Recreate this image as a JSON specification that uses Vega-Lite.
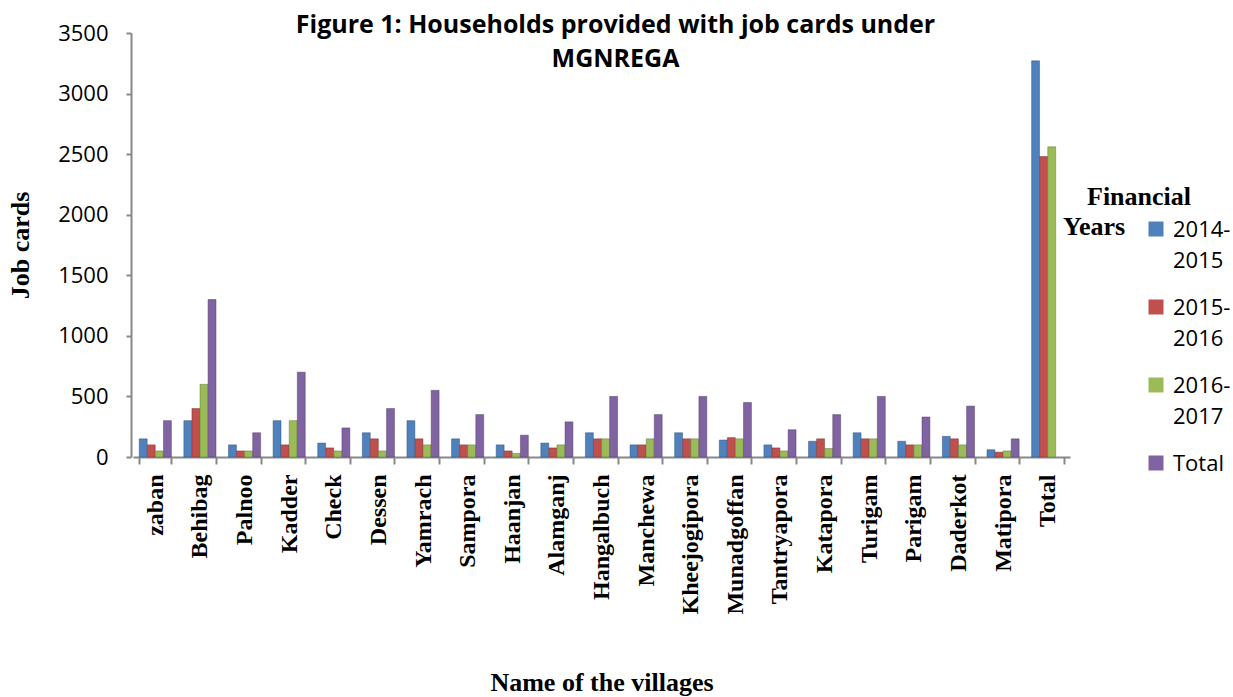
{
  "$schema": "https://vega.github.io/schema/vega-lite/v6.json",
  "autosize": {"type": "none"},
  "width": 937,
  "height": 424,
  "padding": {"left": 133, "top": 33, "right": 163, "bottom": 240},
  "background": "white",
  "title": {
    "text": ["Figure 1: Households provided with job cards under", "MGNREGA"],
    "font": "Open Sans",
    "fontSize": 25,
    "fontWeight": "bold",
    "color": "#000000",
    "anchor": "middle",
    "lineHeight": 34,
    "offset": -50,
    "dx": 14
  },
  "data": {
    "values": [
      {"village": "zaban", "year": "2014-2015", "value": 150},
      {"village": "zaban", "year": "2015-2016", "value": 100},
      {"village": "zaban", "year": "2016-2017", "value": 50},
      {"village": "zaban", "year": "Total", "value": 300},
      {"village": "Behibag", "year": "2014-2015", "value": 300},
      {"village": "Behibag", "year": "2015-2016", "value": 400},
      {"village": "Behibag", "year": "2016-2017", "value": 600},
      {"village": "Behibag", "year": "Total", "value": 1300},
      {"village": "Palnoo", "year": "2014-2015", "value": 100},
      {"village": "Palnoo", "year": "2015-2016", "value": 50},
      {"village": "Palnoo", "year": "2016-2017", "value": 50},
      {"village": "Palnoo", "year": "Total", "value": 200},
      {"village": "Kadder", "year": "2014-2015", "value": 300},
      {"village": "Kadder", "year": "2015-2016", "value": 100},
      {"village": "Kadder", "year": "2016-2017", "value": 300},
      {"village": "Kadder", "year": "Total", "value": 700},
      {"village": "Check", "year": "2014-2015", "value": 115},
      {"village": "Check", "year": "2015-2016", "value": 75},
      {"village": "Check", "year": "2016-2017", "value": 50},
      {"village": "Check", "year": "Total", "value": 240},
      {"village": "Dessen", "year": "2014-2015", "value": 200},
      {"village": "Dessen", "year": "2015-2016", "value": 150},
      {"village": "Dessen", "year": "2016-2017", "value": 50},
      {"village": "Dessen", "year": "Total", "value": 400},
      {"village": "Yamrach", "year": "2014-2015", "value": 300},
      {"village": "Yamrach", "year": "2015-2016", "value": 150},
      {"village": "Yamrach", "year": "2016-2017", "value": 100},
      {"village": "Yamrach", "year": "Total", "value": 550},
      {"village": "Sampora", "year": "2014-2015", "value": 150},
      {"village": "Sampora", "year": "2015-2016", "value": 100},
      {"village": "Sampora", "year": "2016-2017", "value": 100},
      {"village": "Sampora", "year": "Total", "value": 350},
      {"village": "Haanjan", "year": "2014-2015", "value": 100},
      {"village": "Haanjan", "year": "2015-2016", "value": 50},
      {"village": "Haanjan", "year": "2016-2017", "value": 30},
      {"village": "Haanjan", "year": "Total", "value": 180},
      {"village": "Alamganj", "year": "2014-2015", "value": 115},
      {"village": "Alamganj", "year": "2015-2016", "value": 75},
      {"village": "Alamganj", "year": "2016-2017", "value": 100},
      {"village": "Alamganj", "year": "Total", "value": 290},
      {"village": "Hangalbuch", "year": "2014-2015", "value": 200},
      {"village": "Hangalbuch", "year": "2015-2016", "value": 150},
      {"village": "Hangalbuch", "year": "2016-2017", "value": 150},
      {"village": "Hangalbuch", "year": "Total", "value": 500},
      {"village": "Manchewa", "year": "2014-2015", "value": 100},
      {"village": "Manchewa", "year": "2015-2016", "value": 100},
      {"village": "Manchewa", "year": "2016-2017", "value": 150},
      {"village": "Manchewa", "year": "Total", "value": 350},
      {"village": "Kheejogipora", "year": "2014-2015", "value": 200},
      {"village": "Kheejogipora", "year": "2015-2016", "value": 150},
      {"village": "Kheejogipora", "year": "2016-2017", "value": 150},
      {"village": "Kheejogipora", "year": "Total", "value": 500},
      {"village": "Munadgoffan", "year": "2014-2015", "value": 140},
      {"village": "Munadgoffan", "year": "2015-2016", "value": 160},
      {"village": "Munadgoffan", "year": "2016-2017", "value": 150},
      {"village": "Munadgoffan", "year": "Total", "value": 450},
      {"village": "Tantryapora", "year": "2014-2015", "value": 100},
      {"village": "Tantryapora", "year": "2015-2016", "value": 75},
      {"village": "Tantryapora", "year": "2016-2017", "value": 50},
      {"village": "Tantryapora", "year": "Total", "value": 225},
      {"village": "Katapora", "year": "2014-2015", "value": 130},
      {"village": "Katapora", "year": "2015-2016", "value": 150},
      {"village": "Katapora", "year": "2016-2017", "value": 70},
      {"village": "Katapora", "year": "Total", "value": 350},
      {"village": "Turigam", "year": "2014-2015", "value": 200},
      {"village": "Turigam", "year": "2015-2016", "value": 150},
      {"village": "Turigam", "year": "2016-2017", "value": 150},
      {"village": "Turigam", "year": "Total", "value": 500},
      {"village": "Parigam", "year": "2014-2015", "value": 130},
      {"village": "Parigam", "year": "2015-2016", "value": 100},
      {"village": "Parigam", "year": "2016-2017", "value": 100},
      {"village": "Parigam", "year": "Total", "value": 330},
      {"village": "Daderkot", "year": "2014-2015", "value": 170},
      {"village": "Daderkot", "year": "2015-2016", "value": 150},
      {"village": "Daderkot", "year": "2016-2017", "value": 100},
      {"village": "Daderkot", "year": "Total", "value": 420},
      {"village": "Matipora", "year": "2014-2015", "value": 60},
      {"village": "Matipora", "year": "2015-2016", "value": 40},
      {"village": "Matipora", "year": "2016-2017", "value": 50},
      {"village": "Matipora", "year": "Total", "value": 150},
      {"village": "Total", "year": "2014-2015", "value": 3270},
      {"village": "Total", "year": "2015-2016", "value": 2480},
      {"village": "Total", "year": "2016-2017", "value": 2560}
    ]
  },
  "mark": {"type": "bar", "strokeWidth": 0.8, "strokeOpacity": 0.6},
  "encoding": {
    "x": {
      "field": "village",
      "type": "nominal",
      "sort": ["zaban", "Behibag", "Palnoo", "Kadder", "Check", "Dessen", "Yamrach", "Sampora", "Haanjan", "Alamganj", "Hangalbuch", "Manchewa", "Kheejogipora", "Munadgoffan", "Tantryapora", "Katapora", "Turigam", "Parigam", "Daderkot", "Matipora", "Total"],
      "scale": {"paddingInner": 0.28, "paddingOuter": 0.14},
      "axis": {
        "title": "Name of the villages",
        "titleFont": "Liberation Serif",
        "titleFontSize": 26,
        "titleFontWeight": "bold",
        "titleColor": "#000000",
        "titlePadding": 55,
        "labelAngle": -90,
        "labelFont": "Liberation Serif",
        "labelFontSize": 24,
        "labelFontWeight": "bold",
        "labelColor": "#000000",
        "labelPadding": 10,
        "tickBand": "extent",
        "tickSize": 7,
        "tickColor": "#888888",
        "domainColor": "#888888",
        "domainWidth": 2,
        "tickWidth": 2,
        "grid": false
      }
    },
    "xOffset": {
      "field": "year",
      "type": "nominal",
      "sort": ["2014-2015", "2015-2016", "2016-2017", "Total"],
      "scale": {"domain": ["2014-2015", "2015-2016", "2016-2017", "Total"], "paddingInner": 0.02}
    },
    "y": {
      "field": "value",
      "type": "quantitative",
      "scale": {"domain": [0, 3500], "nice": false},
      "axis": {
        "title": "Job cards",
        "titleFont": "Liberation Serif",
        "titleFontSize": 26,
        "titleFontWeight": "bold",
        "titleColor": "#000000",
        "titlePadding": 24,
        "values": [0, 500, 1000, 1500, 2000, 2500, 3000, 3500],
        "format": "d",
        "labelFont": "Open Sans",
        "labelFontSize": 22,
        "labelColor": "#000000",
        "labelPadding": 18,
        "tickSize": 5,
        "tickColor": "#888888",
        "domainColor": "#888888",
        "domainWidth": 2,
        "tickWidth": 2,
        "offset": 2,
        "grid": false
      }
    },
    "color": {
      "field": "year",
      "type": "nominal",
      "scale": {
        "domain": ["2014-2015", "2015-2016", "2016-2017", "Total"],
        "range": ["#4F81BD", "#C0504D", "#9BBB59", "#8064A2"]
      },
      "legend": {
        "title": "Years",
        "titleOrient": "left",
        "titleAnchor": "start",
        "titleAlign": "left",
        "titleBaseline": "alphabetic",
        "titleFont": "Liberation Serif",
        "titleFontSize": 26,
        "titleFontWeight": "bold",
        "titleColor": "#000000",
        "titlePadding": 19,
        "orient": "none",
        "legendX": 930,
        "legendY": 185,
        "symbolType": "square",
        "symbolSize": 225,
        "symbolStrokeWidth": 0,
        "labelFont": "Open Sans",
        "labelFontSize": 22,
        "labelColor": "#000000",
        "labelBaseline": "alphabetic",
        "labelOffset": 6,
        "rowPadding": 24,
        "labelExpr": "datum.label == 'Total' ? 'Total' : [substring(datum.label, 0, 5), substring(datum.label, 5)]",
        "encoding": {
          "labels": {"dy": {"value": 8}, "lineHeight": {"value": 31}},
          "title": {"dy": {"value": 17}}
        }
      }
    },
    "stroke": {
      "field": "year",
      "type": "nominal",
      "scale": {
        "domain": ["Total", "2014-2015", "2015-2016", "2016-2017"],
        "range": ["#4d3b62", "#2c4d75", "#772c2a", "#5f7530"]
      },
      "legend": {
        "title": "Financial",
        "orient": "none",
        "legendX": 954,
        "legendY": 172,
        "titleBaseline": "alphabetic",
        "titleFont": "Liberation Serif",
        "titleFontSize": 26,
        "titleFontWeight": "bold",
        "titleColor": "#000000",
        "titlePadding": 0,
        "labelExpr": "''",
        "labelFontSize": 1,
        "symbolOpacity": 0,
        "symbolSize": 1,
        "rowPadding": 0
      }
    }
  },
  "config": {"view": {"stroke": null}}
}
